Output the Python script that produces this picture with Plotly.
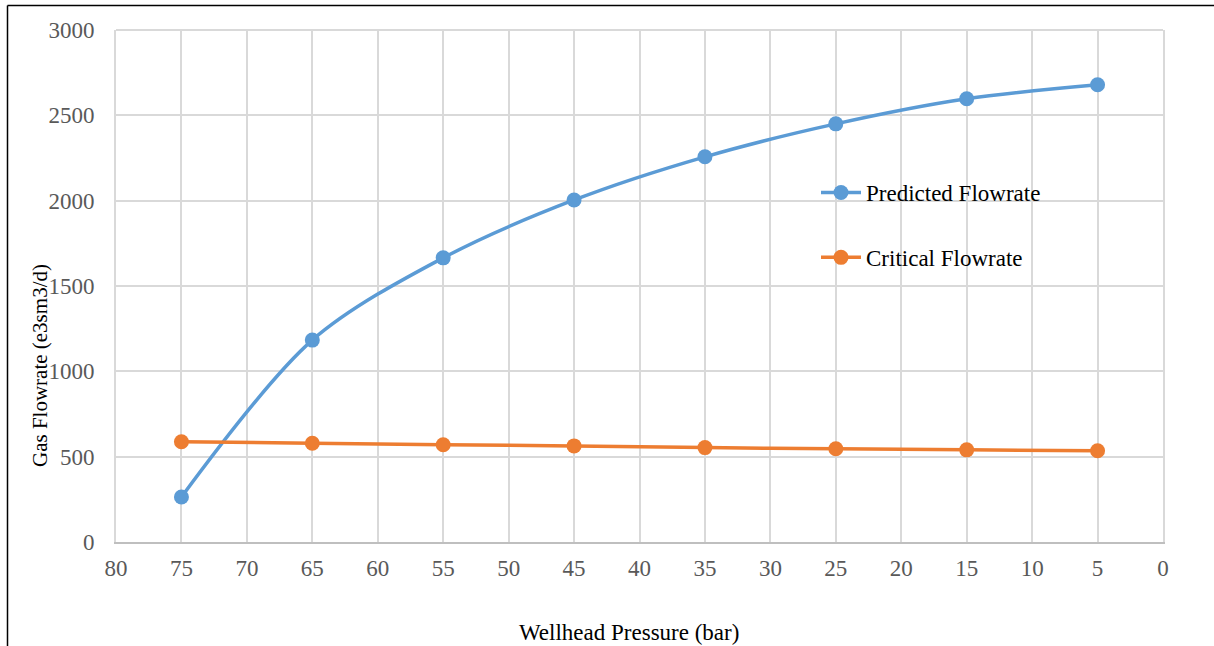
import plotly.graph_objects as go

pressure = [75, 65, 55, 45, 35, 25, 15, 5]
predicted = [264, 1183, 1665, 2004, 2257, 2450, 2597, 2679]
critical = [587, 579, 570, 563, 553, 546, 540, 535]

x_ticks = list(range(0, 85, 5))
y_ticks = list(range(0, 3500, 500))

BLUE = "#5B9BD5"
ORANGE = "#ED7D31"
FONT = "Liberation Serif"

W, H = 1214, 646
L, R, T, B = 116, 51, 30, 104
pw, ph = W - L - R, H - T - B


def px(x):
    return (x - L) / pw


def py(y):
    return (H - B - y) / ph


fig = go.Figure()
fig.add_trace(go.Scatter(
    x=pressure, y=predicted, name="Predicted Flowrate", mode="lines+markers",
    line=dict(color=BLUE, width=3.5, shape="spline", smoothing=0.9),
    marker=dict(size=15, color=BLUE), legendgroup="a"))
fig.add_trace(go.Scatter(
    x=pressure, y=critical, name="Critical Flowrate", mode="lines+markers",
    line=dict(color=ORANGE, width=3.5, shape="spline", smoothing=0.9),
    marker=dict(size=15, color=ORANGE), legendgroup="b"))

fig.update_layout(
    width=W, height=H,
    margin=dict(l=L, r=R, t=T, b=B, pad=0),
    paper_bgcolor="white", plot_bgcolor="white",
    font=dict(family=FONT, size=23, color="#595959"),
    showlegend=True,
    legend=dict(x=px(816), y=py(171), xanchor="left", yanchor="top",
                font=dict(family=FONT, size=23, color="black"),
                bgcolor="rgba(0,0,0,0)", tracegroupgap=32, traceorder="grouped",
                itemwidth=40),
    xaxis=dict(range=[80, 0], tickvals=x_ticks, showgrid=True, gridcolor="#D9D9D9",
               gridwidth=2, showline=True, linecolor="#BFBFBF", linewidth=2,
               zeroline=False, ticks="", ticklabelstandoff=4),
    yaxis=dict(range=[0, 3000], tickvals=y_ticks, showgrid=True, gridcolor="#D9D9D9",
               gridwidth=2, showline=True, linecolor="#D9D9D9", linewidth=2,
               mirror=True, zeroline=False, ticks="", ticklabelstandoff=15),
    shapes=[
        dict(type="line", xref="paper", yref="paper", x0=px(7.5), x1=px(1214),
             y0=py(5.5), y1=py(5.5), line=dict(color="black", width=1.5)),
        dict(type="line", xref="paper", yref="paper", x0=px(7.5), x1=px(7.5),
             y0=py(5.5), y1=py(646), line=dict(color="black", width=1.5)),
        dict(type="line", xref="paper", yref="paper", x0=0, x1=1, y0=1, y1=1,
             line=dict(color="#D9D9D9", width=2), layer="below"),
    ],
    annotations=[
        dict(text="Wellhead Pressure (bar)", xref="paper", yref="paper",
             x=px(629), y=py(632), xanchor="center", yanchor="middle", showarrow=False,
             font=dict(family=FONT, size=23, color="black")),
        dict(text="Gas Flowrate (e3sm3/d)", xref="paper", yref="paper",
             x=px(40), y=py(366), xanchor="center", yanchor="middle", showarrow=False,
             textangle=-90, font=dict(family=FONT, size=21, color="black")),
    ],
)

fig.write_html("out.html")
